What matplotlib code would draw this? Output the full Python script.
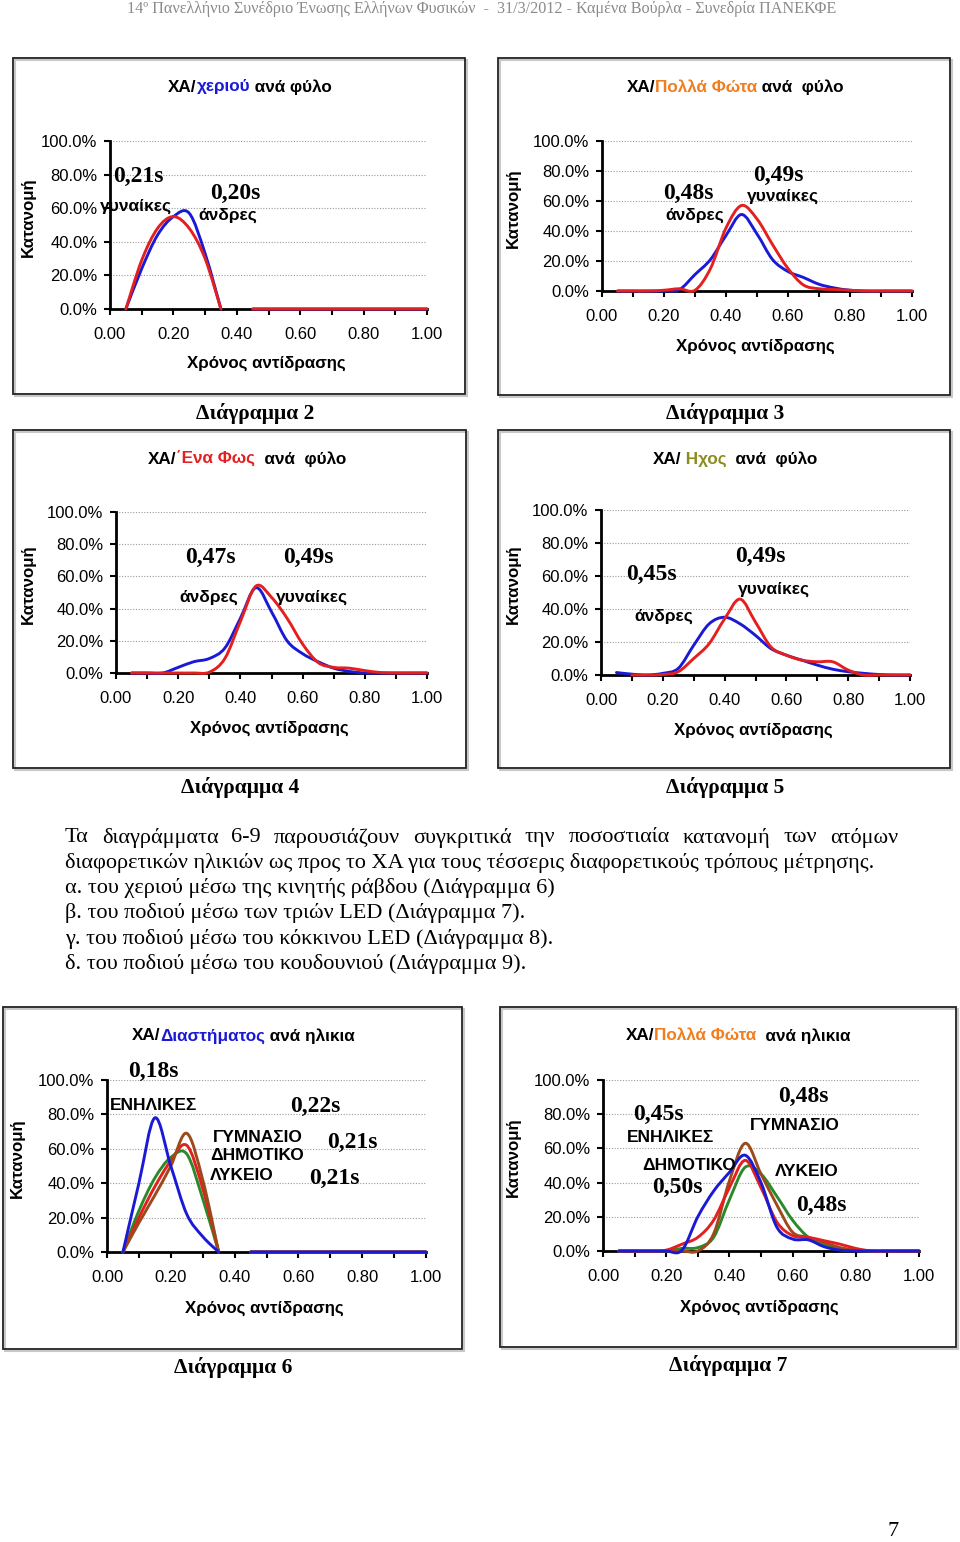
import numpy as np
import matplotlib
matplotlib.use("Agg")
import matplotlib.pyplot as plt
from matplotlib.path import Path
from matplotlib.patches import PathPatch, Rectangle

W, H = 960, 1542
SANS = "Liberation Sans"
SERIF = "Liberation Serif"

BLUE = "#1a1ad6"
RED = "#e3201f"
BROWN = "#9c4a1c"
GREEN = "#2a8a2a"
ORANGE = "#f07d1e"
OLIVE = "#8c8c1e"

nan = np.nan

# reaction time (s) at which every series is sampled
times = [0.05, 0.10, 0.15, 0.20, 0.25, 0.30, 0.35, 0.40, 0.45, 0.50,
         0.55, 0.60, 0.65, 0.70, 0.75, 0.80, 0.85, 0.90, 0.95, 1.00]

# Διάγραμμα 2 - hand, by sex (%)
hand_men = [0, 24, 44, 55, 57, 33, 0, nan, 0, 0, 0, 0, 0, 0, 0, 0, 0, 0, 0, 0]
hand_women = [0, 29, 48, 55, 48, 30, 0, nan, 0, 0, 0, 0, 0, 0, 0, 0, 0, 0, 0, 0]

# Διάγραμμα 3 - many lights, by sex
lights_men = [0, 0, 0, 0, 1, 11, 21, 37, 51, 38, 21, 13, 9, 4.5, 2, 0.5, 0, 0, 0, 0]
lights_women = [0, 0, 0, 0.5, 1.5, 0.5, 15, 42, 57, 48, 31, 15, 4, 1.5, 1, 0.5, 0, 0, 0, 0]

# Διάγραμμα 4 - one light, by sex
light_men = [0, 0, 0, 3.5, 7, 9, 15.5, 34, 53, 38, 20, 12, 7, 3, 1, 0, 0, 0, 0, 0]
light_women = [0, 0, 0, 0, 0, 0.5, 9, 32, 54, 47, 34, 18, 6.5, 3.5, 3, 1.5, 0.3, 0, 0, 0]

# Διάγραμμα 5 - sound, by sex
sound_men = [1.5, 0.5, 0, 1, 4, 18, 31, 35, 31, 24, 16, 12, 9, 6, 3.5, 2, 1, 0.3, 0, 0]
sound_women = [nan, 0, 0, 0.3, 2, 10, 19, 34, 46, 32, 17, 12, 9, 8, 8, 3, 0, 0, 0, 0]

# Διάγραμμα 6 - interval, by age
interval_adults = [0, 40, 78, 50, 22, 9, 0, nan, 0, 0, 0, 0, 0, 0, 0, 0, 0, 0, 0, 0]
interval_gym = [0, 17, 33, 50, 69, 42, 0, nan, 0, 0, 0, 0, 0, 0, 0, 0, 0, 0, 0, 0]
interval_primary = [0, 20, 38, 53, 62, 37, 0, nan, 0, 0, 0, 0, 0, 0, 0, 0, 0, 0, 0, 0]
interval_lyceum = [0, 24, 43, 55, 57, 31, 0, nan, 0, 0, 0, 0, 0, 0, 0, 0, 0, 0, 0, 0]

# Διάγραμμα 7 - many lights, by age
age_adults = [0, 0, 0, 0, 0.5, 20, 35, 46, 56, 40, 14, 7, 6.5, 2.5, 0.5, 0, 0, 0, 0, 0]
age_primary = [0, 0, 0, 0.5, 4, 8, 18, 37, 53, 37, 17, 9, 8, 6, 4, 1.5, 0, 0, 0, 0]
age_gym = [0, 0, 0, 0, 0, 0, 10, 41, 63, 45, 27, 11, 8, 5, 2, 0.5, 0, 0, 0, 0]
age_lyceum = [0, 0, 0, 0, 1.5, 2, 8, 30, 49, 45, 32, 18, 8, 3.5, 1.5, 0.3, 0, 0, 0, 0]

y_ticks = [0, 20, 40, 60, 80, 100]
x_ticks = [0.0, 0.2, 0.4, 0.6, 0.8, 1.0]

paragraph = [
    "Τα διαγράμματα 6-9 παρουσιάζουν συγκριτικά την ποσοστιαία κατανομή των ατόμων",
    "διαφορετικών ηλικιών ως προς το ΧΑ για τους τέσσερις διαφορετικούς τρόπους μέτρησης.",
    "α. του χεριού μέσω της κινητής ράβδου (Διάγραμμα 6)",
    "β. του ποδιού μέσω των τριών LED (Διάγραμμα 7).",
    "γ. του ποδιού μέσω του κόκκινου LED (Διάγραμμα 8).",
    "δ. του ποδιού μέσω του κουδουνιού (Διάγραμμα 9).",
]

fig = plt.figure(figsize=(W / 100, H / 100), dpi=100)
renderer = fig.canvas.get_renderer()


def fx(x):
    return x / W


def fy(y):
    return 1 - y / H


def text_at(x, y, s, ha="left", va="center", **kw):
    return fig.text(fx(x), fy(y), s, ha=ha, va=va, **kw)


def text_width(s, **kw):
    t = fig.text(0, 0, s, **kw)
    w = t.get_window_extent(renderer).width
    t.remove()
    return w


def multicolor(xc, y, parts, **kw):
    full = "".join(p for p, _ in parts)
    x0 = xc - text_width(full, **kw) / 2
    prefix = ""
    for s, c in parts:
        off = text_width(prefix, **kw) if prefix else 0
        text_at(x0 + off, y, s, color=c, **kw)
        prefix += s


def frame(x0, y0, x1, y1):
    fig.patches.append(Rectangle((fx(x0 + 2), fy(y1 + 2)), fx(x1 - x0), (y1 - y0) / H,
                                 transform=fig.transFigure, facecolor="none",
                                 edgecolor="#c8c8c8", lw=1.5))
    fig.patches.append(Rectangle((fx(x0), fy(y1)), fx(x1 - x0), (y1 - y0) / H,
                                 transform=fig.transFigure, facecolor="none",
                                 edgecolor="#222222", lw=1.3))


def smooth(ax, xs, ys, color):
    # Excel-like smoothed line: Catmull-Rom segments drawn as cubic Beziers
    xs = np.asarray(xs, float)
    ys = np.asarray(ys, float)
    runs, cur = [], []
    for i in range(len(xs)):
        if np.isnan(ys[i]):
            if cur:
                runs.append(cur)
            cur = []
        else:
            cur.append(i)
    if cur:
        runs.append(cur)
    verts, codes = [], []
    for run in runs:
        p = np.column_stack([xs[run], ys[run]])
        if len(p) < 2:
            continue
        verts.append(p[0])
        codes.append(Path.MOVETO)
        for i in range(len(p) - 1):
            pm = p[i - 1] if i > 0 else p[i]
            pn = p[i + 2] if i + 2 < len(p) else p[i + 1]
            c1 = p[i] + (p[i + 1] - pm) / 6
            c2 = p[i + 1] - (pn - p[i]) / 6
            verts += [c1, c2, p[i + 1]]
            codes += [Path.CURVE4] * 3
    ax.add_patch(PathPatch(Path(verts, codes), facecolor="none", edgecolor=color,
                           lw=2.1, clip_on=False, zorder=4, capstyle="round",
                           joinstyle="round"))


def chart(x0, y0, x1, y1, series, ylabel_x, xlabel_y):
    ax = fig.add_axes([fx(x0), fy(y1), (x1 - x0) / W, (y1 - y0) / H])
    ax.set_facecolor("none")
    ax.set_xlim(0, 1)
    ax.set_ylim(0, 100)
    ax.set_xticks(x_ticks)
    ax.set_xticks([0.1, 0.3, 0.5, 0.7, 0.9], minor=True)
    ax.set_xticklabels([f"{v:.2f}" for v in x_ticks])
    ax.set_yticks(y_ticks)
    ax.set_yticklabels([f"{v:.1f}%" for v in y_ticks])
    for s in ("top", "right"):
        ax.spines[s].set_visible(False)
    for s in ("left", "bottom"):
        ax.spines[s].set_linewidth(2)
        ax.spines[s].set_zorder(3)
    ax.yaxis.grid(True, color="#9a9a9a", ls=(0, (1, 1.5)), lw=0.8)
    ax.set_axisbelow(True)
    ax.tick_params(axis="both", which="both", direction="out", length=4, width=1.5,
                   labelsize=12, colors="black")
    ax.tick_params(axis="x", pad=9)
    ax.tick_params(axis="y", pad=5)
    for lab in ax.get_xticklabels() + ax.get_yticklabels():
        lab.set_fontfamily(SANS)
    for ys, c in series:
        smooth(ax, times, ys, c)
    text_at(ylabel_x, (y0 + y1) / 2 - 8, "Κατανομή", ha="center", rotation=90,
            family=SANS, weight="bold", fontsize=12.2)
    text_at((x0 + x1) / 2 - 2, xlabel_y, "Χρόνος αντίδρασης", ha="center",
            family=SANS, weight="bold", fontsize=12.2)
    return ax


title_kw = dict(family=SANS, weight="bold", fontsize=12.3)
num_kw = dict(family=SERIF, weight="bold", fontsize=17)
lab_kw = dict(family=SANS, weight="bold", fontsize=12.5)
cap_kw = dict(family=SERIF, weight="bold", fontsize=15.5, ha="center")

# header
text_at(482, 9, "14º Πανελλήνιο Συνέδριο Ένωσης Ελλήνων Φυσικών  -  31/3/2012 - Καμένα Βούρλα - Συνεδρία ΠΑΝΕΚΦΕ",
        ha="center", family=SERIF, fontsize=11.6, color="#8a8a8a")

# ---- Διάγραμμα 2 ----
frame(13, 58, 465, 394)
multicolor(250, 87, [("ΧΑ/", "black"), ("χεριού", BLUE), (" ανά φύλο", "black")], **title_kw)
chart(110, 141, 427, 309, [(hand_men, BLUE), (hand_women, RED)], 28, 363)
text_at(113, 176, "0,21s", **num_kw)
text_at(100, 206, "γυναίκες", **lab_kw)
text_at(210, 193, "0,20s", **num_kw)
text_at(198, 215, "άνδρες", **lab_kw)

# ---- Διάγραμμα 3 ----
frame(498, 58, 950, 395)
multicolor(735, 87, [("ΧΑ/", "black"), ("Πολλά Φώτα", ORANGE), (" ανά  φύλο", "black")], **title_kw)
chart(602, 141, 912, 291, [(lights_men, BLUE), (lights_women, RED)], 513, 346)
text_at(663, 193, "0,48s", **num_kw)
text_at(665, 215, "άνδρες", **lab_kw)
text_at(753, 175, "0,49s", **num_kw)
text_at(747, 196, "γυναίκες", **lab_kw)

text_at(255, 413, "Διάγραμμα 2", **cap_kw)
text_at(725, 413, "Διάγραμμα 3", **cap_kw)

# ---- Διάγραμμα 4 ----
frame(13, 430, 466, 768)
multicolor(247, 459, [("ΧΑ/", "black"), ("΄Ενα Φως", RED), ("  ανά  φύλο", "black")], **title_kw)
chart(116, 512, 427, 673, [(light_men, BLUE), (light_women, RED)], 28, 728)
text_at(185, 557, "0,47s", **num_kw)
text_at(283, 557, "0,49s", **num_kw)
text_at(179, 597, "άνδρες", **lab_kw)
text_at(276, 597, "γυναίκες", **lab_kw)

# ---- Διάγραμμα 5 ----
frame(498, 430, 950, 768)
multicolor(735, 459, [("ΧΑ/", "black"), (" Ηχος", OLIVE), ("  ανά  φύλο", "black")], **title_kw)
chart(601, 510, 910, 675, [(sound_men, BLUE), (sound_women, RED)], 513, 730)
text_at(626, 574, "0,45s", **num_kw)
text_at(634, 616, "άνδρες", **lab_kw)
text_at(735, 556, "0,49s", **num_kw)
text_at(738, 589, "γυναίκες", **lab_kw)

text_at(240, 787, "Διάγραμμα 4", **cap_kw)
text_at(725, 787, "Διάγραμμα 5", **cap_kw)

# ---- paragraph ----
para_kw = dict(family=SERIF, fontsize=16)
words = paragraph[0].split()
widths = [text_width(w, **para_kw) for w in words]
gap = (898 - 65 - sum(widths)) / (len(words) - 1)
x = 65
for w, wd in zip(words, widths):
    text_at(x, 838, w, **para_kw)
    x += wd + gap
for i, line in enumerate(paragraph[1:]):
    text_at(65, 863 + 25.2 * i, line, **para_kw)

# ---- Διάγραμμα 6 ----
frame(3, 1007, 462, 1349)
multicolor(243, 1036, [("ΧΑ/", "black"), ("Διαστήματος", BLUE), (" ανά ηλικια", "black")], **title_kw)
chart(107, 1080, 426, 1252,
      [(interval_lyceum, GREEN), (interval_primary, RED), (interval_gym, BROWN),
       (interval_adults, BLUE)], 17, 1308)
text_at(128, 1071, "0,18s", **num_kw)
text_at(110, 1105, "ΕΝΗΛΙΚΕΣ", **lab_kw)
text_at(290, 1106, "0,22s", **num_kw)
text_at(213, 1137, "ΓΥΜΝΑΣΙΟ", **lab_kw)
text_at(327, 1142, "0,21s", **num_kw)
text_at(210, 1155, "ΔΗΜΟΤΙΚΟ", **lab_kw)
text_at(210, 1176, "ΛΥΚΕΙΟ", **lab_kw)
text_at(309, 1178, "0,21s", **num_kw)

# ---- Διάγραμμα 7 ----
frame(500, 1007, 956, 1347)
multicolor(738, 1036, [("ΧΑ/", "black"), ("Πολλά Φώτα", ORANGE), ("  ανά ηλικια", "black")], **title_kw)
chart(603, 1080, 919, 1251,
      [(age_lyceum, GREEN), (age_gym, BROWN), (age_primary, RED), (age_adults, BLUE)],
      513, 1307)
text_at(633, 1114, "0,45s", **num_kw)
text_at(627, 1137, "ΕΝΗΛΙΚΕΣ", **lab_kw)
text_at(778, 1096, "0,48s", **num_kw)
text_at(750, 1125, "ΓΥΜΝΑΣΙΟ", **lab_kw)
text_at(642, 1165, "ΔΗΜΟΤΙΚΟ", **lab_kw)
text_at(775, 1171, "ΛΥΚΕΙΟ", **lab_kw)
text_at(652, 1187, "0,50s", **num_kw)
text_at(796, 1205, "0,48s", **num_kw)

text_at(233, 1368, "Διάγραμμα 6", **cap_kw)
text_at(728, 1365, "Διάγραμμα 7", **cap_kw)

text_at(893, 1531, "7", ha="center", family=SERIF, fontsize=16)

fig.savefig("out.png", dpi=100, facecolor="white")
